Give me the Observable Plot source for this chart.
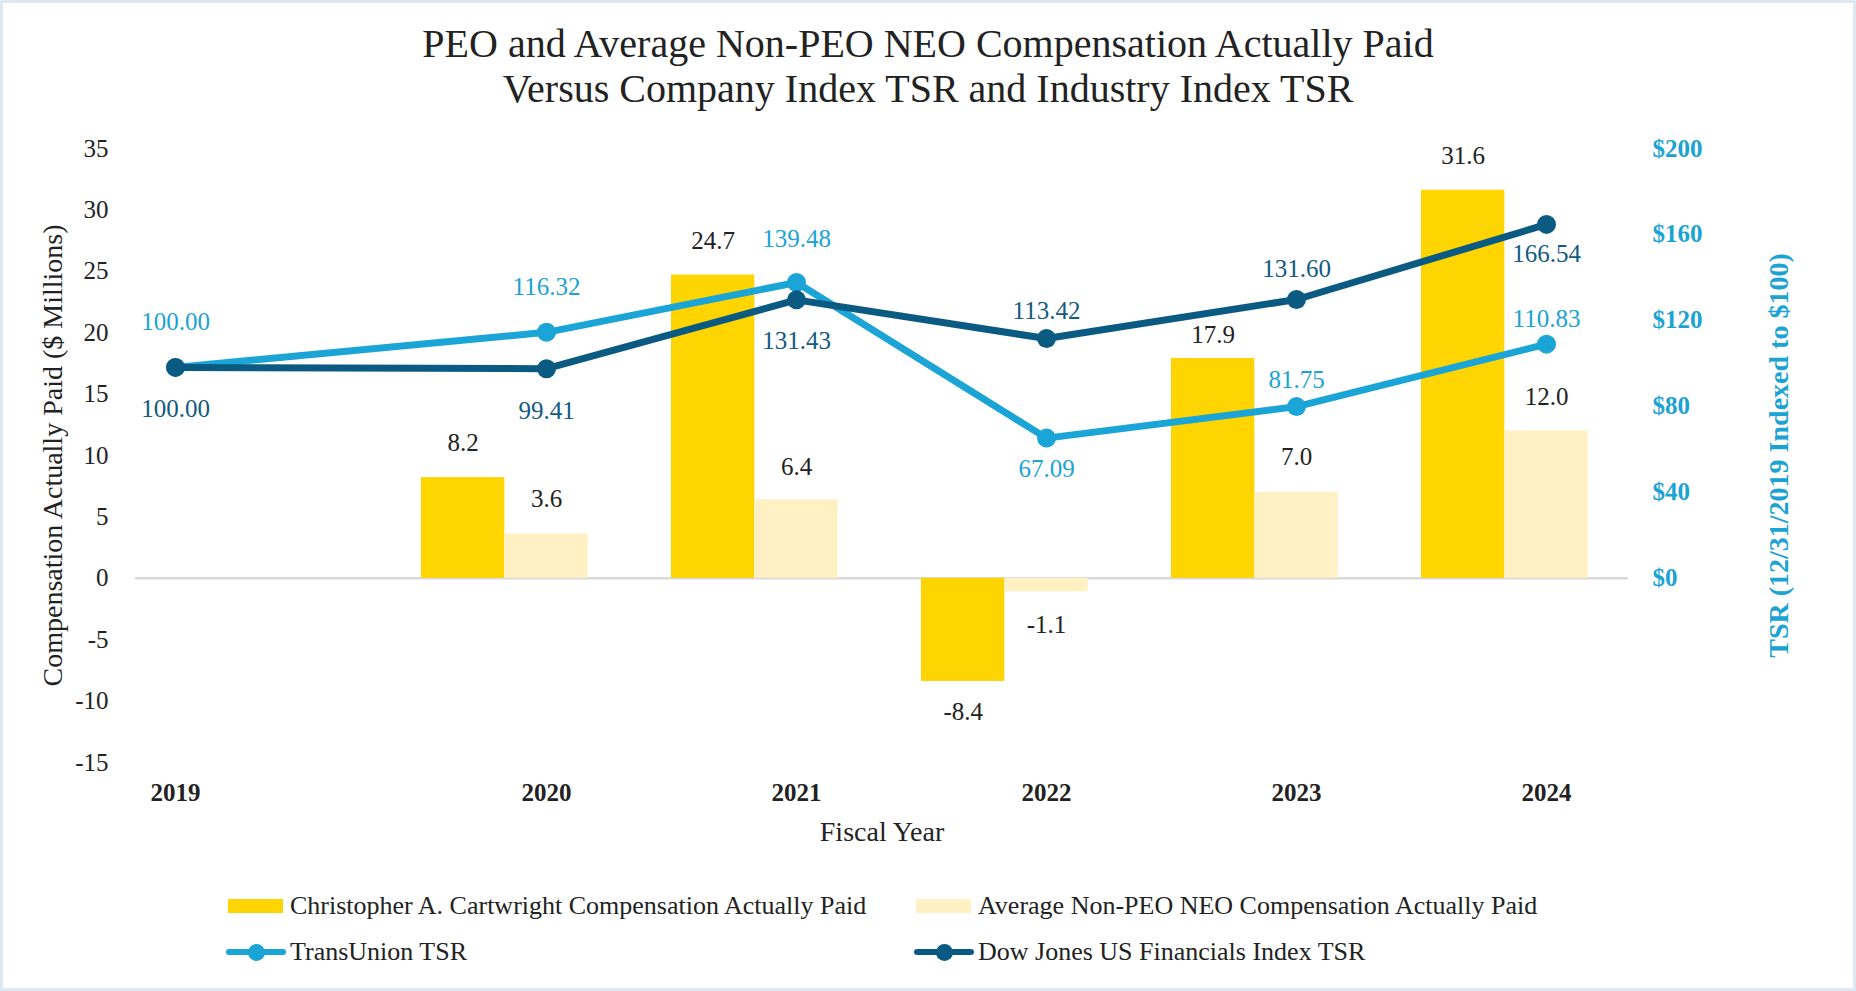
<!DOCTYPE html>
<html>
<head>
<meta charset="utf-8">
<script src="https://cdn.jsdelivr.net/npm/d3@7"></script>
<script src="https://cdn.jsdelivr.net/npm/@observablehq/plot@0.6"></script>
<style>
  html, body { margin: 0; padding: 0; background: #fff; }
  #page { position: relative; width: 1856px; height: 991px; overflow: hidden; background: #fff;
          font-family: "Liberation Serif", "Times New Roman", serif; color: #222; }
  #frame { position: absolute; left: 0; top: 0; width: 1856px; height: 991px; box-sizing: border-box;
           border: 3px solid #dfe8f0; pointer-events: none; z-index: 5; }
  #title { position: absolute; left: 0; top: 21px; width: 1856px; text-align: center;
           font-size: 40px; line-height: 45px; color: #222; }
  #chart { position: absolute; left: 0; top: 115px; }
  .lg { position: absolute; height: 30px; display: flex; align-items: center; font-size: 26px;
        line-height: 30px; white-space: nowrap; color: #222; }
  .sw { display: inline-block; width: 55px; height: 14px; margin-right: 7px; }
  .ln { position: relative; display: inline-block; width: 60px; height: 6px; margin-right: 4px; border-radius: 3px; }
  .ln .pt { position: absolute; left: 21.5px; top: -5.5px; width: 17px; height: 17px; border-radius: 50%; }
</style>
</head>
<body>
<div id="page">
  <div id="title">PEO and Average Non-PEO NEO Compensation Actually Paid<br>Versus Company Index TSR and Industry Index TSR</div>
  <div id="chart"></div>
  <div id="legend"></div>
  <div id="frame"></div>
</div>
<script>
// ---------- data ----------
const years = [2019, 2020, 2021, 2022, 2023, 2024];
const barYears = [2020, 2021, 2022, 2023, 2024];
const peoCAP = [8.2, 24.7, -8.4, 17.9, 31.6];          // Christopher A. Cartwright CAP ($M)
const neoCAP = [3.6, 6.4, -1.1, 7.0, 12.0];            // Average Non-PEO NEO CAP ($M)
const tuTSR = [100.00, 116.32, 139.48, 67.09, 81.75, 110.83];   // TransUnion TSR
const djTSR = [100.00, 99.41, 131.43, 113.42, 131.60, 166.54];  // Dow Jones US Financials Index TSR
const leftTicks = [-15, -10, -5, 0, 5, 10, 15, 20, 25, 30, 35];
const rightTicks = [0, 40, 80, 120, 160, 200];
const seriesNames = [
  "Christopher A. Cartwright Compensation Actually Paid",
  "Average Non-PEO NEO Compensation Actually Paid",
  "TransUnion TSR",
  "Dow Jones US Financials Index TSR"
];

// ---------- styling ----------
const C_PEO = "#FED500", C_NEO = "#FFF1C4", C_TU = "#1BA4D6", C_DJ = "#0B5A82";
const C_TU_TXT = "#1BA3D4", C_DJ_TXT = "#125A7F", C_TXT = "#222";
const FONT = '"Liberation Serif", "Times New Roman", serif';
const k = 35 / 200;             // right axis ($0–$200) onto left axis (0–35)
const lineShift = 4;
const peoLabelDy = [-35, -34, 31, -23, -34];
const neoLabelDy = [-35, -33, 33, -35, -34];
const tuLabelDy = [-45, -45, -44, 31, -27, -25];
const djLabelDy = [42, 42, 41, -28, -30, 30];

// bar slots within a year: PEO bar covers [year-1/2, year-1/6], NEO bar [year-1/6, year+1/6]
const peoRows = barYears.map((year, i) => ({year, value: peoCAP[i], label: peoCAP[i].toFixed(1)}));
const neoRows = barYears.map((year, i) => ({year, value: neoCAP[i], label: neoCAP[i].toFixed(1)}));
const tuRows = years.map((year, i) => ({year, v: tuTSR[i] * k, label: tuTSR[i].toFixed(2)}));
const djRows = years.map((year, i) => ({year, v: djTSR[i] * k, label: djTSR[i].toFixed(2)}));

const W = 1856, H = 760, ML = 135, MR = 228, MT = 33, MB = 113;

const labels = (rows, xFn, yKey, dys, fill, shift) =>
  rows.map((d, i) => Plot.text([d], {x: xFn, y: yKey, text: "label", dy: dys[i] + shift,
    fill, fontSize: 25, fontFamily: FONT}));

const chart = Plot.plot({
  width: W, height: H,
  marginLeft: ML, marginRight: MR, marginTop: MT, marginBottom: MB,
  style: {fontFamily: FONT, fontSize: "25px", color: C_TXT, background: "transparent", overflow: "visible"},
  // 2019 sits apart on its own; 2019.5 onward is an even year spacing
  x: {type: "linear", domain: [2019, 2019.5, 2024], range: [ML + 40, ML + 286, W - MR - 82], label: null},
  y: {domain: [-15, 35], label: null},
  marks: [
    Plot.ruleY([0], {stroke: "#d9d9d9", strokeWidth: 2.5}),
    Plot.rect(peoRows, {x1: d => d.year - 0.5, x2: d => d.year - 1/6, y1: 0, y2: "value", fill: C_PEO}),
    Plot.rect(neoRows, {x1: d => d.year - 1/6, x2: d => d.year + 1/6, y1: 0, y2: "value", fill: C_NEO}),
    Plot.line(tuRows, {x: "year", y: "v", stroke: C_TU, strokeWidth: 7, dy: lineShift}),
    Plot.dot(tuRows, {x: "year", y: "v", r: 9.5, fill: C_TU, dy: lineShift}),
    Plot.line(djRows, {x: "year", y: "v", stroke: C_DJ, strokeWidth: 7, dy: lineShift}),
    Plot.dot(djRows, {x: "year", y: "v", r: 9.5, fill: C_DJ, dy: lineShift}),
    ...labels(peoRows, d => d.year - 1/3, "value", peoLabelDy, C_TXT, 0),
    ...labels(neoRows, d => d.year, "value", neoLabelDy, C_TXT, 0),
    ...labels(tuRows, "year", "v", tuLabelDy, C_TU_TXT, lineShift),
    ...labels(djRows, "year", "v", djLabelDy, C_DJ_TXT, lineShift),
    Plot.axisY(leftTicks, {anchor: "left", tickSize: 0, tickPadding: 27, tickFormat: d => String(d),
      fontSize: 25, fontFamily: FONT, fill: C_TXT, label: null}),
    Plot.axisY(rightTicks.map(v => v * k), {anchor: "right", tickSize: 0, tickPadding: 24,
      tickFormat: (d, i) => "$" + rightTicks[i], fontSize: 25, fontFamily: FONT, fontWeight: "bold",
      fill: C_TU_TXT, label: null}),
    Plot.axisX(years, {tickSize: 0, tickPadding: 21, tickFormat: d => String(d), fontSize: 25,
      fontFamily: FONT, fontWeight: "bold", fill: C_TXT, label: null}),
    Plot.text(["Fiscal Year"], {frameAnchor: "bottom", dy: 78, fontSize: 28, fontFamily: FONT, fill: C_TXT}),
    Plot.text(["Compensation Actually Paid ($ Millions)"], {frameAnchor: "left", dx: -82, rotate: -90,
      textAnchor: "middle", fontSize: 28, fontFamily: FONT, fill: C_TXT}),
    Plot.text(["TSR (12/31/2019 Indexed to $100)"], {frameAnchor: "right", dx: 151, rotate: -90,
      textAnchor: "middle", fontSize: 28, fontFamily: FONT, fontWeight: "bold", fill: C_TU_TXT})
  ]
});
document.getElementById("chart").appendChild(chart);

// ---------- legend ----------
const legend = document.getElementById("legend");
const items = [
  {name: seriesNames[0], kind: "bar", color: C_PEO, left: 228, top: 891},
  {name: seriesNames[1], kind: "bar", color: C_NEO, left: 916, top: 891},
  {name: seriesNames[2], kind: "line", color: C_TU, left: 226, top: 937},
  {name: seriesNames[3], kind: "line", color: C_DJ, left: 914, top: 937}
];
for (const it of items) {
  const row = document.createElement("div");
  row.className = "lg";
  row.style.left = it.left + "px";
  row.style.top = it.top + "px";
  const key = document.createElement("span");
  if (it.kind === "bar") {
    key.className = "sw";
    key.style.background = it.color;
  } else {
    key.className = "ln";
    key.style.background = it.color;
    const pt = document.createElement("span");
    pt.className = "pt";
    pt.style.background = it.color;
    key.appendChild(pt);
  }
  const txt = document.createElement("span");
  txt.textContent = it.name;
  row.appendChild(key);
  row.appendChild(txt);
  legend.appendChild(row);
}
</script>
</body>
</html>
